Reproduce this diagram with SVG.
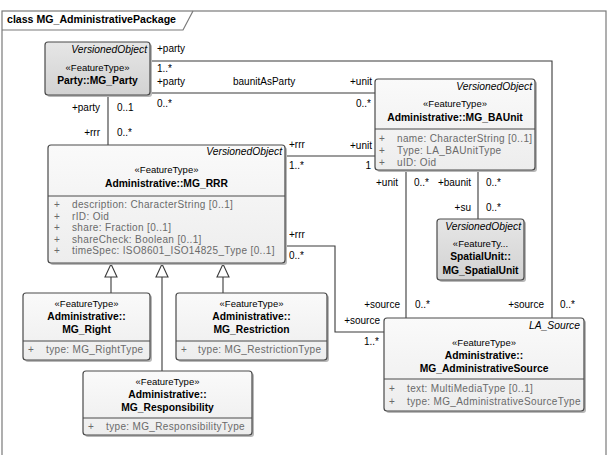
<svg xmlns="http://www.w3.org/2000/svg" width="608" height="455" viewBox="0 0 608 455">
<defs>
<linearGradient id="gl" x1="0" y1="0" x2="0" y2="1"><stop offset="0" stop-color="#fafafa"/><stop offset="1" stop-color="#ededed"/></linearGradient>
<linearGradient id="gd" x1="0" y1="0" x2="0" y2="1"><stop offset="0" stop-color="#e6e6e6"/><stop offset="1" stop-color="#d2d2d2"/></linearGradient>
</defs>
<style>
text{font-family:"Liberation Sans",Arial,sans-serif;fill:#000}
.sh{fill:#b8b8b8}
.bx{fill:url(#gl);stroke:#4a4a4a;stroke-width:1.2}
.bd{fill:url(#gd);stroke:#4a4a4a;stroke-width:1.2}
.sep{stroke:#4a4a4a;stroke-width:1}
.it{font-style:italic;font-size:10.3px;text-anchor:end}
.st{font-size:9.5px;text-anchor:middle}
.nm{font-weight:bold;font-size:10.3px;text-anchor:middle}
.at{font-size:10px;fill:#6a6a6a;letter-spacing:0.35px}
.lb{font-size:10px}
.e{text-anchor:end}
.cn{fill:none;stroke:#3a3a3a;stroke-width:1.1}
.tri{fill:#fff;stroke:#3a3a3a;stroke-width:1.1}
</style>
<rect x="2" y="11" width="604" height="452" fill="#fff" stroke="#7a7a7a" stroke-width="1.2"/>
<path d="M2,30 H183 L193,11" fill="none" stroke="#7a7a7a" stroke-width="1.2"/>
<text x="7" y="23" font-weight="bold" font-size="10.6px">class MG_AdministrativePackage</text>

<g id="connectors">
<path class="cn" d="M150,61 H552 V318"/>
<path class="cn" d="M150,93 H375"/>
<path class="cn" d="M108,95 V145"/>
<path class="cn" d="M285,156 H375"/>
<path class="cn" d="M285,246 H335 V332 H384"/>
<path class="cn" d="M406,170 V318"/>
<path class="cn" d="M478,170 V219"/>
<path class="cn" d="M111,277 V293"/>
<path class="cn" d="M162,277 V371"/>
<path class="cn" d="M223,277 V293"/>
<path class="tri" d="M111,264 L117,277 H105 Z"/>
<path class="tri" d="M162,264 L168,277 H156 Z"/>
<path class="tri" d="M223,264 L229,277 H217 Z"/>
<text class="lb" x="157" y="52">+party</text>
<text class="lb" x="157" y="72">1..*</text>
<text class="lb" x="157" y="85">+party</text>
<text class="lb" x="233" y="85">baunitAsParty</text>
<text class="lb" x="157" y="107">0..*</text>
<text class="lb e" x="372" y="85">+unit</text>
<text class="lb e" x="371" y="107">0..*</text>
<text class="lb e" x="100" y="111">+party</text>
<text class="lb" x="117" y="111">0..1</text>
<text class="lb e" x="100" y="136">+rrr</text>
<text class="lb" x="117" y="136">0..*</text>
<text class="lb" x="289" y="148">+rrr</text>
<text class="lb" x="289" y="169">1..*</text>
<text class="lb e" x="372" y="149">+unit</text>
<text class="lb e" x="371" y="169">1</text>
<text class="lb e" x="398" y="186">+unit</text>
<text class="lb" x="414" y="186">0..*</text>
<text class="lb e" x="471" y="186">+baunit</text>
<text class="lb" x="486" y="186">0..*</text>
<text class="lb e" x="471" y="211">+su</text>
<text class="lb" x="486" y="211">0..*</text>
<text class="lb" x="289" y="238">+rrr</text>
<text class="lb" x="289" y="259">0..*</text>
<text class="lb e" x="400" y="308">+source</text>
<text class="lb" x="415" y="308">0..*</text>
<text class="lb e" x="544" y="308">+source</text>
<text class="lb" x="560" y="308">0..*</text>
<text class="lb e" x="380" y="324">+source</text>
<text class="lb e" x="379" y="345">1..*</text>
</g>

<g id="party">
<rect class="sh" x="47" y="44" width="105" height="53" rx="3"/>
<rect class="bd" x="45" y="42" width="105" height="53" rx="3"/>
<text class="it" x="147" y="53">VersionedObject</text>
<text class="st" x="97.5" y="71">«FeatureType»</text>
<text class="nm" x="97.5" y="84">Party::MG_Party</text>
</g>

<g id="rrr">
<rect class="sh" x="50" y="147" width="237" height="118" rx="3"/>
<rect class="bx" x="48" y="145" width="237" height="118" rx="3"/>
<text class="it" x="282" y="155">VersionedObject</text>
<text class="st" x="166.5" y="173">«FeatureType»</text>
<text class="nm" x="166.5" y="187">Administrative::MG_RRR</text>
<line class="sep" x1="48" y1="196" x2="285" y2="196"/>
<text class="at" x="54" y="208">+</text><text class="at" x="72" y="208">description: CharacterString [0..1]</text>
<text class="at" x="54" y="219.5">+</text><text class="at" x="72" y="219.5">rID: Oid</text>
<text class="at" x="54" y="231">+</text><text class="at" x="72" y="231">share: Fraction [0..1]</text>
<text class="at" x="54" y="242.5">+</text><text class="at" x="72" y="242.5">shareCheck: Boolean [0..1]</text>
<text class="at" x="54" y="254">+</text><text class="at" x="72" y="254">timeSpec: ISO8601_ISO14825_Type [0..1]</text>
</g>

<g id="baunit">
<rect class="sh" x="377" y="81" width="160" height="91" rx="3"/>
<rect class="bx" x="375" y="79" width="160" height="91" rx="3"/>
<text class="it" x="532" y="90">VersionedObject</text>
<text class="st" x="455" y="107">«FeatureType»</text>
<text class="nm" x="455" y="121">Administrative::MG_BAUnit</text>
<line class="sep" x1="375" y1="129" x2="535" y2="129"/>
<text class="at" x="379" y="142">+</text><text class="at" x="397" y="142">name: CharacterString [0..1]</text>
<text class="at" x="379" y="154">+</text><text class="at" x="397" y="154">Type: LA_BAUnitType</text>
<text class="at" x="379" y="166">+</text><text class="at" x="397" y="166">uID: Oid</text>
</g>

<g id="spatialunit">
<rect class="sh" x="439" y="221" width="87" height="61" rx="3"/>
<rect class="bd" x="437" y="219" width="87" height="61" rx="3"/>
<text class="it" x="521" y="230">VersionedObject</text>
<text class="st" x="480.5" y="247">«FeatureTy...</text>
<text class="nm" x="480.5" y="260">SpatialUnit::</text>
<text class="nm" x="480.5" y="274">MG_SpatialUnit</text>
</g>

<g id="source">
<rect class="sh" x="386" y="320" width="200" height="93" rx="3"/>
<rect class="bx" x="384" y="318" width="200" height="93" rx="3"/>
<text class="it" x="580" y="329">LA_Source</text>
<text class="st" x="484" y="346">«FeatureType»</text>
<text class="nm" x="484" y="359">Administrative::</text>
<text class="nm" x="484" y="372">MG_AdministrativeSource</text>
<line class="sep" x1="384" y1="379" x2="584" y2="379"/>
<text class="at" x="389" y="392">+</text><text class="at" x="407" y="392">text: MultiMediaType [0..1]</text>
<svg x="384" y="380" width="200" height="30" overflow="hidden"><text class="at" x="5" y="24.5">+</text><text class="at" x="23" y="24.5">type: MG_AdministrativeSourceType</text></svg>
</g>

<g id="right">
<rect class="sh" x="25" y="295" width="127" height="67" rx="3"/>
<rect class="bx" x="23" y="293" width="127" height="67" rx="3"/>
<text class="st" x="86.5" y="307">«FeatureType»</text>
<text class="nm" x="86.5" y="320">Administrative::</text>
<text class="nm" x="86.5" y="333">MG_Right</text>
<line class="sep" x1="23" y1="341" x2="150" y2="341"/>
<text class="at" x="28" y="353">+</text><text class="at" x="46" y="353">type: MG_RightType</text>
</g>

<g id="restriction">
<rect class="sh" x="178" y="295" width="151" height="67" rx="3"/>
<rect class="bx" x="176" y="293" width="151" height="67" rx="3"/>
<text class="st" x="251.5" y="307">«FeatureType»</text>
<text class="nm" x="251.5" y="320">Administrative::</text>
<text class="nm" x="251.5" y="333">MG_Restriction</text>
<line class="sep" x1="176" y1="341" x2="327" y2="341"/>
<text class="at" x="181" y="353">+</text><text class="at" x="198" y="353">type: MG_RestrictionType</text>
</g>

<g id="responsibility">
<rect class="sh" x="85" y="373" width="169" height="64" rx="3"/>
<rect class="bx" x="83" y="371" width="169" height="64" rx="3"/>
<text class="st" x="167.5" y="385">«FeatureType»</text>
<text class="nm" x="167.5" y="398">Administrative::</text>
<text class="nm" x="167.5" y="411">MG_Responsibility</text>
<line class="sep" x1="83" y1="418" x2="252" y2="418"/>
<text class="at" x="88" y="430">+</text><text class="at" x="106" y="430">type: MG_ResponsibilityType</text>
</g>
</svg>
